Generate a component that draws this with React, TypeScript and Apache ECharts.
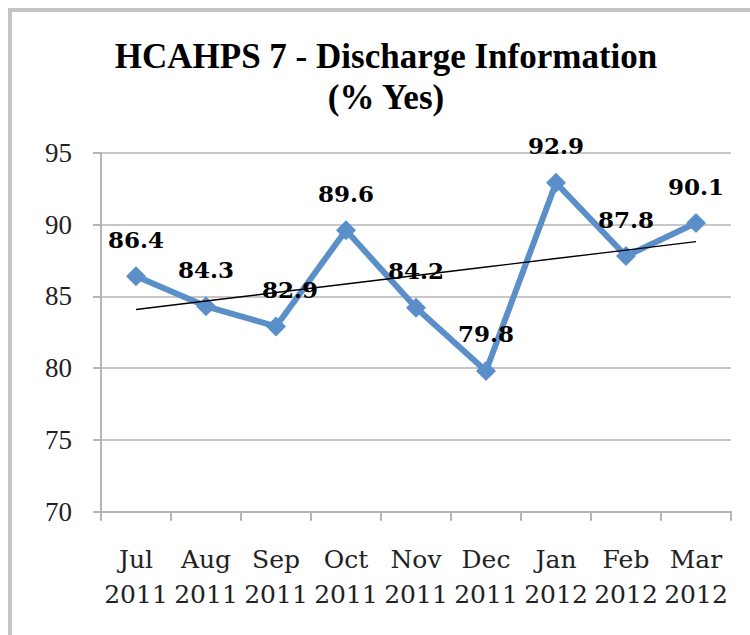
import React, { useEffect, useRef } from "react";
import * as echarts from "echarts";

const months = ["Jul", "Aug", "Sep", "Oct", "Nov", "Dec", "Jan", "Feb", "Mar"];
const years = ["2011", "2011", "2011", "2011", "2011", "2011", "2012", "2012", "2012"];
const pctYes = [86.4, 84.3, 82.9, 89.6, 84.2, 79.8, 92.9, 87.8, 90.1];
const yTicks = { min: 70, max: 95, step: 5 };
const titleLines = ["HCAHPS 7 - Discharge Information", "(% Yes)"];

// Least-squares linear trend over the monthly values
function linearTrend(values: number[]): number[] {
  const n = values.length;
  const mx = (n - 1) / 2;
  const my = values.reduce((a, b) => a + b, 0) / n;
  let sxy = 0;
  let sxx = 0;
  values.forEach((v, i) => {
    sxy += (i - mx) * (v - my);
    sxx += (i - mx) * (i - mx);
  });
  const slope = sxy / sxx;
  return values.map((_, i) => +(my + slope * (i - mx)).toFixed(3));
}

export default function App() {
  const ref = useRef<HTMLDivElement>(null);

  useEffect(() => {
    if (!ref.current) return;
    const chart = echarts.init(ref.current, undefined, { renderer: "svg" });
    const categories = months.map((m, i) => `${m}\n${years[i]}`);
    const trend = linearTrend(pctYes);
    const blue = "#5A8FCA";
    const gray = "#b5b5b5";

    chart.setOption({
      animation: false,
      backgroundColor: "#ffffff",
      title: {
        text: titleLines.join("\n"),
        left: 386,
        top: 36,
        padding: 0,
        textAlign: "center",
        textStyle: {
          fontFamily: "Liberation Serif",
          fontWeight: "bold",
          fontSize: 35,
          lineHeight: 41,
          color: "#000",
        },
      },
      graphic: [
        {
          type: "rect",
          shape: { x: 10, y: 10, width: 900, height: 800 },
          style: { fill: "none", stroke: "#c4c4c4", lineWidth: 4 },
          silent: true,
        },
      ],
      grid: { left: 101, right: 19, top: 152.7, bottom: 123.3 },
      xAxis: {
        type: "category",
        data: categories,
        boundaryGap: true,
        axisLine: { lineStyle: { color: gray, width: 2 } },
        axisTick: { show: true, length: 9, lineStyle: { color: gray, width: 2 } },
        axisLabel: {
          interval: 0,
          margin: 30,
          fontFamily: "DejaVu Serif",
          fontSize: 25,
          lineHeight: 35,
          color: "#222",
        },
      },
      yAxis: {
        type: "value",
        min: yTicks.min,
        max: yTicks.max,
        interval: yTicks.step,
        axisLine: { show: true, lineStyle: { color: gray, width: 2 } },
        axisTick: { show: true, length: 8, lineStyle: { color: gray, width: 2 } },
        splitLine: { lineStyle: { color: gray, width: 1.5 } },
        axisLabel: {
          margin: 29,
          fontFamily: "Liberation Serif",
          fontSize: 27,
          color: "#222",
          padding: [6, 0, 0, 0],
        },
      },
      series: [
        {
          type: "line",
          data: trend,
          symbol: "none",
          lineStyle: { color: "#000", width: 1.4 },
          silent: true,
          z: 3,
        },
        {
          type: "line",
          data: pctYes.map((v, i) =>
            i === 2 ? { value: v, label: { offset: [14, 0] } } : v
          ),
          symbol: "diamond",
          symbolSize: 20,
          itemStyle: { color: blue },
          lineStyle: { color: blue, width: 6 },
          label: {
            show: true,
            position: "top",
            distance: 15,
            fontFamily: "DejaVu Serif",
            fontWeight: "bold",
            fontSize: 23,
            lineHeight: 24,
            color: "#000",
            formatter: (p: any) => p.value.toFixed(1),
          },
          z: 2,
        },
      ],
    });

    return () => chart.dispose();
  }, []);

  return (
    <div
      ref={ref}
      style={{ position: "absolute", left: 0, top: 0, width: 750, height: 635 }}
    />
  );
}
